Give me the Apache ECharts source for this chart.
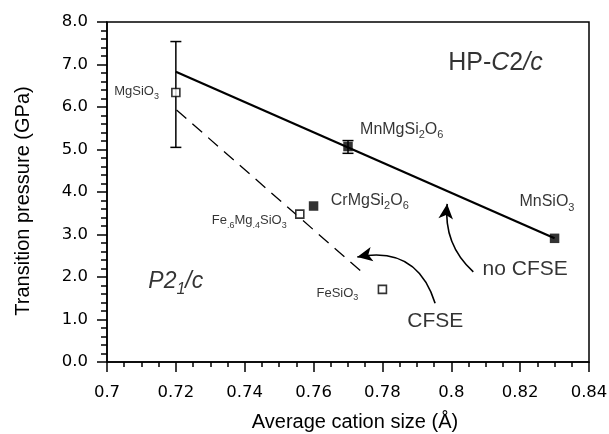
<!DOCTYPE html>
<html><head><meta charset="utf-8">
<script src="https://cdn.jsdelivr.net/npm/echarts@6/dist/echarts.min.js"></script>
<style>html,body{margin:0;padding:0;background:#fff}#c{width:609px;height:434px}</style>
</head><body><div id="c"></div>
<script>
// ---- data ----
const xMin = 0.7, xMax = 0.84, xStep = 0.02;
const yMin = 0, yMax = 8, yStep = 1;
const xTickLabels = ['0.7','0.72','0.74','0.76','0.78','0.8','0.82','0.84'];
const yTickLabels = ['0.0','1.0','2.0','3.0','4.0','5.0','6.0','7.0','8.0'];

const openPoints   = [[0.72, 6.34], [0.756, 3.48], [0.78, 1.71]];      // MgSiO3, Fe.6Mg.4SiO3, FeSiO3
const filledPoints = [[0.77, 5.07], [0.76, 3.67], [0.83, 2.91]];      // MnMgSi2O6, CrMgSi2O6, MnSiO3
const errorBars    = [[0.72, 5.05, 7.54], [0.77, 4.91, 5.21]];        // x, low, high
const noCfseTrend  = [[0.72, 6.83], [0.83, 2.91]];
const cfseTrend    = [[0.7202, 5.93], [0.7744, 2.09]];
const noCfseArrow  = [[0.8064, 2.12], [0.7988, 3.72]];
const cfseArrow    = [[0.7953, 1.38], [0.7727, 2.47]];

const bigLabels   = [[0.7735, 5.44, '{n|MnMgSi}{s|2}{n|O}{s|6}'],
                     [0.765, 3.77, '{n|CrMgSi}{s|2}{n|O}{s|6}'],
                     [0.8198, 3.73, '{n|MnSiO}{s|3}']];
const smallLabels = [[0.7151, 6.34, '{n|MgSiO}{s|3}'],
                     [0.7522, 3.30, '{n|Fe}{s|.6}{n|Mg}{s|.4}{n|SiO}{s|3}'],
                     [0.7730, 1.60, '{n|FeSiO}{s|3}']];
const phaseLabels = [[0.7991, 7.03, '{n|HP-}{i|C}{n|2}{i|/c}'],
                     [0.7120, 1.85, '{i|P2}{si|1}{i|/c}']];
const noteLabels  = [[0.8091, 2.18, 'no CFSE'],
                     [0.7872, 0.95, 'CFSE']];

// ---- styles ----
const FONT = '"Liberation Sans", Arial, Helvetica, sans-serif';
const TICKFONT = '"DejaVu Sans", sans-serif';

function labelItems(arr, labelStyle) {
  return arr.map(d => ({ value: [d[0], d[1]], label: Object.assign({ formatter: d[2] }, labelStyle) }));
}

const bigStyle = {
  show: true, position: [0, 0], align: 'left', verticalAlign: 'middle', color: '#000', fontFamily: FONT,
  rich: {
    n: { fontSize: 16, lineHeight: 19, verticalAlign: 'top', fontFamily: FONT, color: '#000' },
    s: { fontSize: 11, lineHeight: 11, padding: [8.5, 0, 0, 0], verticalAlign: 'top', fontFamily: FONT, color: '#000' }
  }
};
const smallStyle = {
  show: true, position: [0, 0], align: 'right', verticalAlign: 'middle', color: '#000', fontFamily: FONT,
  rich: {
    n: { fontSize: 13, lineHeight: 15, verticalAlign: 'top', fontFamily: FONT, color: '#000' },
    s: { fontSize: 9, lineHeight: 9, padding: [6.5, 0, 0, 0], verticalAlign: 'top', fontFamily: FONT, color: '#000' }
  }
};
const phaseStyleHP = {
  show: true, position: [0, 0], align: 'left', verticalAlign: 'middle', color: '#000', fontFamily: FONT,
  rich: {
    n: { fontSize: 25, fontFamily: FONT, color: '#000' },
    i: { fontSize: 25, fontStyle: 'italic', fontFamily: FONT, color: '#000' }
  }
};
const phaseStyleP = {
  show: true, position: [0, 0], align: 'left', verticalAlign: 'middle', color: '#000', fontFamily: FONT,
  rich: {
    i: { fontSize: 23, lineHeight: 26, verticalAlign: 'top', fontStyle: 'italic', fontFamily: FONT, color: '#000' },
    si: { fontSize: 16, lineHeight: 16, padding: [11, 0, 0, 0], verticalAlign: 'top', fontStyle: 'italic', fontFamily: FONT, color: '#000' }
  }
};
const noteStyle = {
  show: true, position: [0, 0], align: 'left', verticalAlign: 'middle', color: '#000', fontFamily: FONT, fontSize: 21
};

const chart = echarts.init(document.getElementById('c'), null, { renderer: 'canvas' });
chart.setOption({
  backgroundColor: '#fff',
  animation: false,
  grid: { left: 107, right: 20, top: 22, bottom: 72, containLabel: false, outerBoundsMode: 'none',
          show: true, borderColor: '#000', borderWidth: 1.5, backgroundColor: 'transparent' },
  xAxis: {
    type: 'value', min: xMin, max: xMax, interval: xStep,
    name: 'Average cation size (Å)', nameLocation: 'middle', nameGap: 50,
    nameTextStyle: { fontSize: 20, color: '#000', fontFamily: FONT, padding: [0, 0, 0, 14] },
    axisLine: { show: true, lineStyle: { color: '#000', width: 1.5 } },
    axisTick: { show: true, inside: false, length: 10, lineStyle: { color: '#000', width: 1.5 } },
    minorTick: { show: true, splitNumber: 4, length: 5, lineStyle: { color: '#000', width: 1.5 } },
    splitLine: { show: false },
    axisLabel: { color: '#000', fontSize: 16.5, fontFamily: TICKFONT, margin: 22,
      formatter: v => xTickLabels[Math.round((v - xMin) / xStep)] }
  },
  yAxis: {
    type: 'value', min: yMin, max: yMax, interval: yStep,
    name: 'Transition pressure (GPa)', nameLocation: 'middle', nameGap: 74,
    nameTextStyle: { fontSize: 20, color: '#000', fontFamily: FONT, padding: [0, 18, 0, 0] },
    axisLine: { show: true, lineStyle: { color: '#000', width: 1.5 } },
    axisTick: { show: true, inside: false, length: 10, lineStyle: { color: '#000', width: 1.5 } },
    minorTick: { show: true, splitNumber: 5, length: 6, lineStyle: { color: '#000', width: 1.5 } },
    splitLine: { show: false },
    axisLabel: { color: '#000', fontSize: 16.5, fontFamily: TICKFONT, margin: 19,
      formatter: v => yTickLabels[Math.round((v - yMin) / yStep)] }
  },
  series: [
    { type: 'line', data: noCfseTrend, showSymbol: false, symbol: 'none', z: 2,
      lineStyle: { color: '#000', width: 2.2 } },
    { type: 'line', data: cfseTrend, showSymbol: false, symbol: 'none', z: 2,
      lineStyle: { color: '#000', width: 1.3, type: [13, 8] } },
    { type: 'custom', data: errorBars, z: 3, encode: { x: 0, y: [1, 2] },
      renderItem: function (params, api) {
        const x = api.value(0);
        const pLo = api.coord([x, api.value(1)]);
        const pHi = api.coord([x, api.value(2)]);
        const w = 5.5;
        const st = { stroke: '#000', lineWidth: 1.5 };
        return { type: 'group', children: [
          { type: 'line', shape: { x1: pLo[0], y1: pLo[1], x2: pHi[0], y2: pHi[1] }, style: st },
          { type: 'line', shape: { x1: pLo[0] - w, y1: pLo[1], x2: pLo[0] + w, y2: pLo[1] }, style: st },
          { type: 'line', shape: { x1: pHi[0] - w, y1: pHi[1], x2: pHi[0] + w, y2: pHi[1] }, style: st }
        ] };
      } },
    { type: 'scatter', data: openPoints, symbol: 'rect', symbolSize: 8, z: 5,
      itemStyle: { color: '#fff', borderColor: '#000', borderWidth: 1.6 } },
    { type: 'scatter', data: filledPoints, symbol: 'rect', symbolSize: 9.5, z: 5,
      itemStyle: { color: '#000' } },
    { type: 'lines', coordinateSystem: 'cartesian2d', z: 4,
      data: [{ coords: noCfseArrow }],
      symbol: ['none', 'arrow'], symbolSize: [0, [11, 15]],
      lineStyle: { color: '#000', width: 1.6, curveness: 0.25, opacity: 1 },
      itemStyle: { color: '#000' } },
    { type: 'lines', coordinateSystem: 'cartesian2d', z: 4,
      data: [{ coords: cfseArrow }],
      symbol: ['none', 'arrow'], symbolSize: [0, [11, 15]],
      lineStyle: { color: '#000', width: 1.6, curveness: -0.45, opacity: 1 },
      itemStyle: { color: '#000' } },
    { type: 'scatter', symbolSize: 0, z: 6, silent: true,
      data: [].concat(
        labelItems(bigLabels, bigStyle),
        labelItems(smallLabels, smallStyle),
        labelItems([phaseLabels[0]], phaseStyleHP),
        labelItems([phaseLabels[1]], phaseStyleP),
        labelItems(noteLabels, noteStyle)
      ) }
  ]
});
</script>
</body></html>
